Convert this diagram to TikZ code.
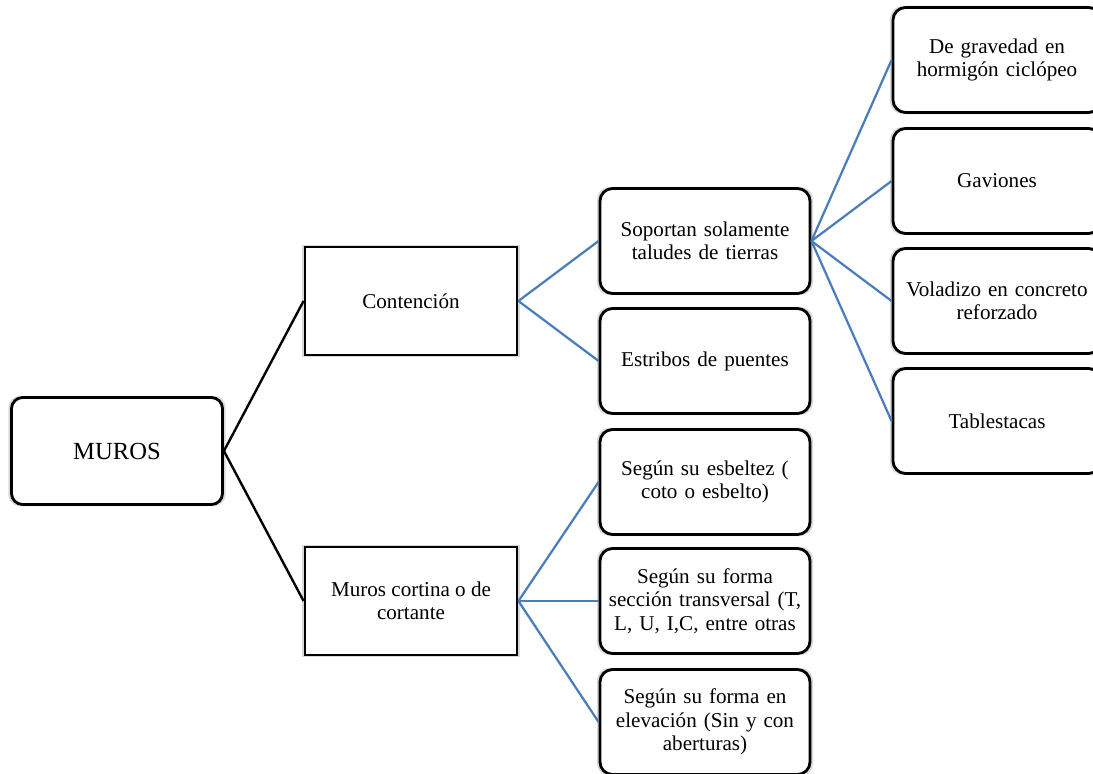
\documentclass[tikz,border=0pt]{standalone}
\usepackage{fontspec}
\setmainfont{Liberation Serif}
\usetikzlibrary{shadows}
\definecolor{azul}{HTML}{4A7EBB}

\begin{document}
\begin{tikzpicture}[
    x=0.025cm, y=-0.025cm,
    caja/.style={draw, fill=white, line width=2pt, align=center, font=\fontsize{15}{16.5}\selectfont,
        drop shadow={shadow xshift=0pt, shadow yshift=0pt, shadow scale=1.03, opacity=0.3}},
    raiz/.style={caja, rounded corners=8pt, minimum width=5.275cm, minimum height=2.675cm,
        font=\fontsize{17.5}{19}\selectfont},
    rama/.style={caja, minimum width=5.3cm, minimum height=2.7cm},
    hoja/.style={caja, rounded corners=9pt, minimum width=5.25cm, minimum height=2.625cm, text width=4.9cm,
        drop shadow={opacity=0}},
    negra/.style={line width=1.7pt, black},
    azulada/.style={line width=1.6pt, azul}
]
\useasboundingbox (0,0) rectangle (1093,774);

\node[raiz] (muros) at (117,451) {MUROS};

\node[rama] (cont) at (411,301) {Contención};
\node[rama] (cort) at (411,601) {Muros cortina o de\\cortante};

\node[hoja] (sopo) at (705,241) {Soportan solamente\\taludes de tierras};
\node[hoja] (estr) at (705,361) {Estribos de puentes};
\node[hoja] (esbe) at (705,482) {Según su esbeltez (\\coto o esbelto)};
\node[hoja] (secc) at (705,601) {Según su forma\\sección transversal (T,\\L, U, I,C, entre otras};
\node[hoja] (elev) at (705,722) {Según su forma en\\elevación (Sin y con\\aberturas)};

\node[hoja, minimum width=5.2cm] (grav) at (997,60) {De gravedad en\\hormigón ciclópeo};
\node[hoja, minimum width=5.2cm] (gavi) at (997,181) {Gaviones};
\node[hoja, minimum width=5.2cm] (vola) at (997,301) {Voladizo en concreto\\reforzado};
\node[hoja, minimum width=5.2cm] (tabl) at (997,421) {Tablestacas};

\draw[negra] (muros.east) -- (cont.west);
\draw[negra] (muros.east) -- (cort.west);

\draw[azulada] (cont.east) -- (sopo.west);
\draw[azulada] (cont.east) -- (estr.west);
\draw[azulada] (cort.east) -- (esbe.west);
\draw[azulada] (cort.east) -- (secc.west);
\draw[azulada] (cort.east) -- (elev.west);

\draw[azulada] (sopo.east) -- (grav.west);
\draw[azulada] (sopo.east) -- (gavi.west);
\draw[azulada] (sopo.east) -- (vola.west);
\draw[azulada] (sopo.east) -- (tabl.west);
\end{tikzpicture}
\end{document}
